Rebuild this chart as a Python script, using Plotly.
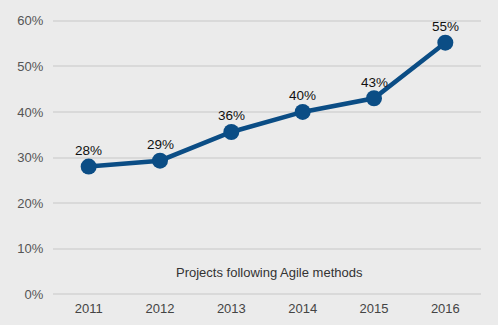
import plotly.graph_objects as go

years = ["2011", "2012", "2013", "2014", "2015", "2016"]
values = [28, 29.3, 35.6, 40, 43, 55.2]
labels = ["28%", "29%", "36%", "40%", "43%", "55%"]
yticks = [0, 10, 20, 30, 40, 50, 60]
ytick_text = ["0%", "10%", "20%", "30%", "40%", "50%", "60%"]
series_name = "Projects following Agile methods"

FONT = "Liberation Sans, Arial"

fig = go.Figure()
fig.add_trace(go.Scatter(
    x=years, y=values, mode="lines+markers",
    line=dict(color="#0b4d85", width=4.5),
    marker=dict(color="#0b4d85", size=16),
    cliponaxis=False, showlegend=False,
))
for i, (v, lab) in enumerate(zip(values, labels)):
    fig.add_annotation(x=i, y=v, xref="x", yref="y", text=lab, showarrow=False, yshift=16,
                       font=dict(family=FONT, size=13.5, color="#111111"))
fig.add_annotation(text=series_name, xref="paper", yref="y", x=0.505, y=4.8,
                   showarrow=False, yanchor="middle",
                   font=dict(family=FONT, size=13, color="#333333"))
fig.update_layout(
    width=498, height=325,
    margin=dict(l=53, r=17, t=19, b=29, autoexpand=False),
    paper_bgcolor="#ebebeb", plot_bgcolor="#ebebeb",
    font=dict(family=FONT, size=13, color="#555555"),
    xaxis=dict(type="category", range=[-0.5, 5.5], showgrid=False, zeroline=False,
               showline=False, ticks="outside", ticklen=0, tickcolor="rgba(0,0,0,0)",
               automargin=False, tickfont=dict(color="#444444", size=13)),
    yaxis=dict(range=[-0.4, 60.4], tickvals=yticks, ticktext=ytick_text,
               showgrid=True, gridcolor="#d9d9d9", gridwidth=1.5,
               zeroline=False, showline=False, ticks="outside", ticklen=6,
               tickcolor="rgba(0,0,0,0)", automargin=False,
               tickfont=dict(color="#555555", size=13)),
)
fig.write_html("out.html")
